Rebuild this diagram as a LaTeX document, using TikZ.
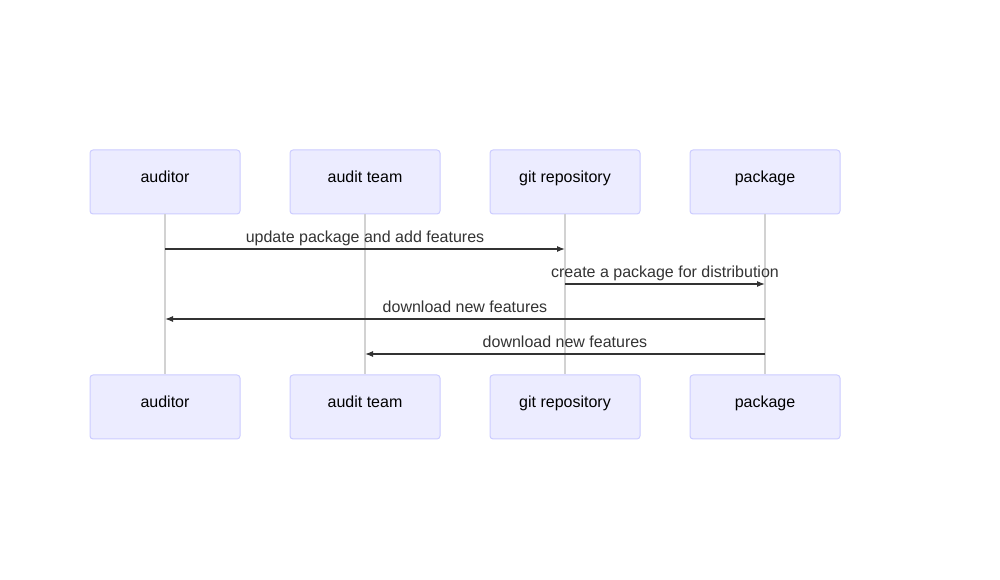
\documentclass[tikz,border=0pt]{standalone}
\usepackage{fontspec}
\setmainfont{Liberation Sans}
\usetikzlibrary{arrows.meta}

\definecolor{actorfill}{RGB}{236,236,255}
\definecolor{actordraw}{RGB}{204,204,255}
\definecolor{lifegray}{RGB}{210,210,210}
\definecolor{msgcol}{RGB}{51,51,51}

\tikzset{every picture/.style={line width=0.75pt}}
\tikzset{
	actor/.style={draw=actordraw, fill=actorfill, rounded corners=2.25pt, minimum width=112.5pt, minimum height=48pt, inner sep=0pt},
	actortext/.style={anchor=base, inner sep=0pt, font=\fontsize{12}{14}\selectfont, text=black},
	lifeline/.style={draw=lifegray, line width=0.9pt},
	msg/.style={draw=msgcol, line width=0.9pt, -{Latex[length=6pt,width=4.5pt]}},
	msglabel/.style={anchor=base, inner sep=0pt, font=\fontsize{12}{14}\selectfont, text=msgcol}
}

\begin{document}
\begin{tikzpicture}[x=0.75pt,y=0.75pt,yscale=-1,xscale=1]
	\useasboundingbox (0,0) rectangle (1000,580);
	
	% Actors top
	\node [actor] (auditorTop) at (165,182) {};
	\node [actor] (teamTop) at (365,182) {};
	\node [actor] (gitTop) at (565,182) {};
	\node [actor] (pkgTop) at (765,182) {};
	
	% Actors bottom
	\node [actor] (auditorBot) at (165,407) {};
	\node [actor] (teamBot) at (365,407) {};
	\node [actor] (gitBot) at (565,407) {};
	\node [actor] (pkgBot) at (765,407) {};
	
	% Actor names
	\node [actortext] (auditorTopTxt) at (165,182.5) {auditor};
	\node [actortext] (teamTopTxt) at (365,182.5) {audit team};
	\node [actortext] (gitTopTxt) at (565,182.5) {git repository};
	\node [actortext] (pkgTopTxt) at (765,182.5) {package};
	\node [actortext] (auditorBotTxt) at (165,407.5) {auditor};
	\node [actortext] (teamBotTxt) at (365,407.5) {audit team};
	\node [actortext] (gitBotTxt) at (565,407.5) {git repository};
	\node [actortext] (pkgBotTxt) at (765,407.5) {package};
	
	% Lifelines
	\draw [lifeline] (auditorTop) -- (auditorBot);
	\draw [lifeline] (teamTop) -- (teamBot);
	\draw [lifeline] (gitTop) -- (gitBot);
	\draw [lifeline] (pkgTop) -- (pkgBot);
	
	% Message points
	\coordinate (m1s) at (auditorTop.south |- 0,249);
	\coordinate (m1e) at (gitTop.south |- 0,249);
	\coordinate (m2s) at (gitTop.south |- 0,284);
	\coordinate (m2e) at (pkgTop.south |- 0,284);
	\coordinate (m3s) at (pkgTop.south |- 0,319);
	\coordinate (m3e) at (auditorTop.south |- 0,319);
	\coordinate (m4s) at (pkgTop.south |- 0,354);
	\coordinate (m4e) at (teamTop.south |- 0,354);
	
	% Messages
	\draw [msg] (m1s) -- (m1e);
	\draw [msg] (m2s) -- (m2e);
	\draw [msg] (m3s) -- (m3e);
	\draw [msg] (m4s) -- (m4e);
	
	% Text Node
	\node [msglabel] (lbl1) at (365,243) {update package and add features};
	\node [msglabel] (lbl2) at (665,278) {create a package for distribution};
	\node [msglabel] (lbl3) at (465,313) {download new features};
	\node [msglabel] (lbl4) at (565,348) {download new features};
	
\end{tikzpicture}
\end{document}
